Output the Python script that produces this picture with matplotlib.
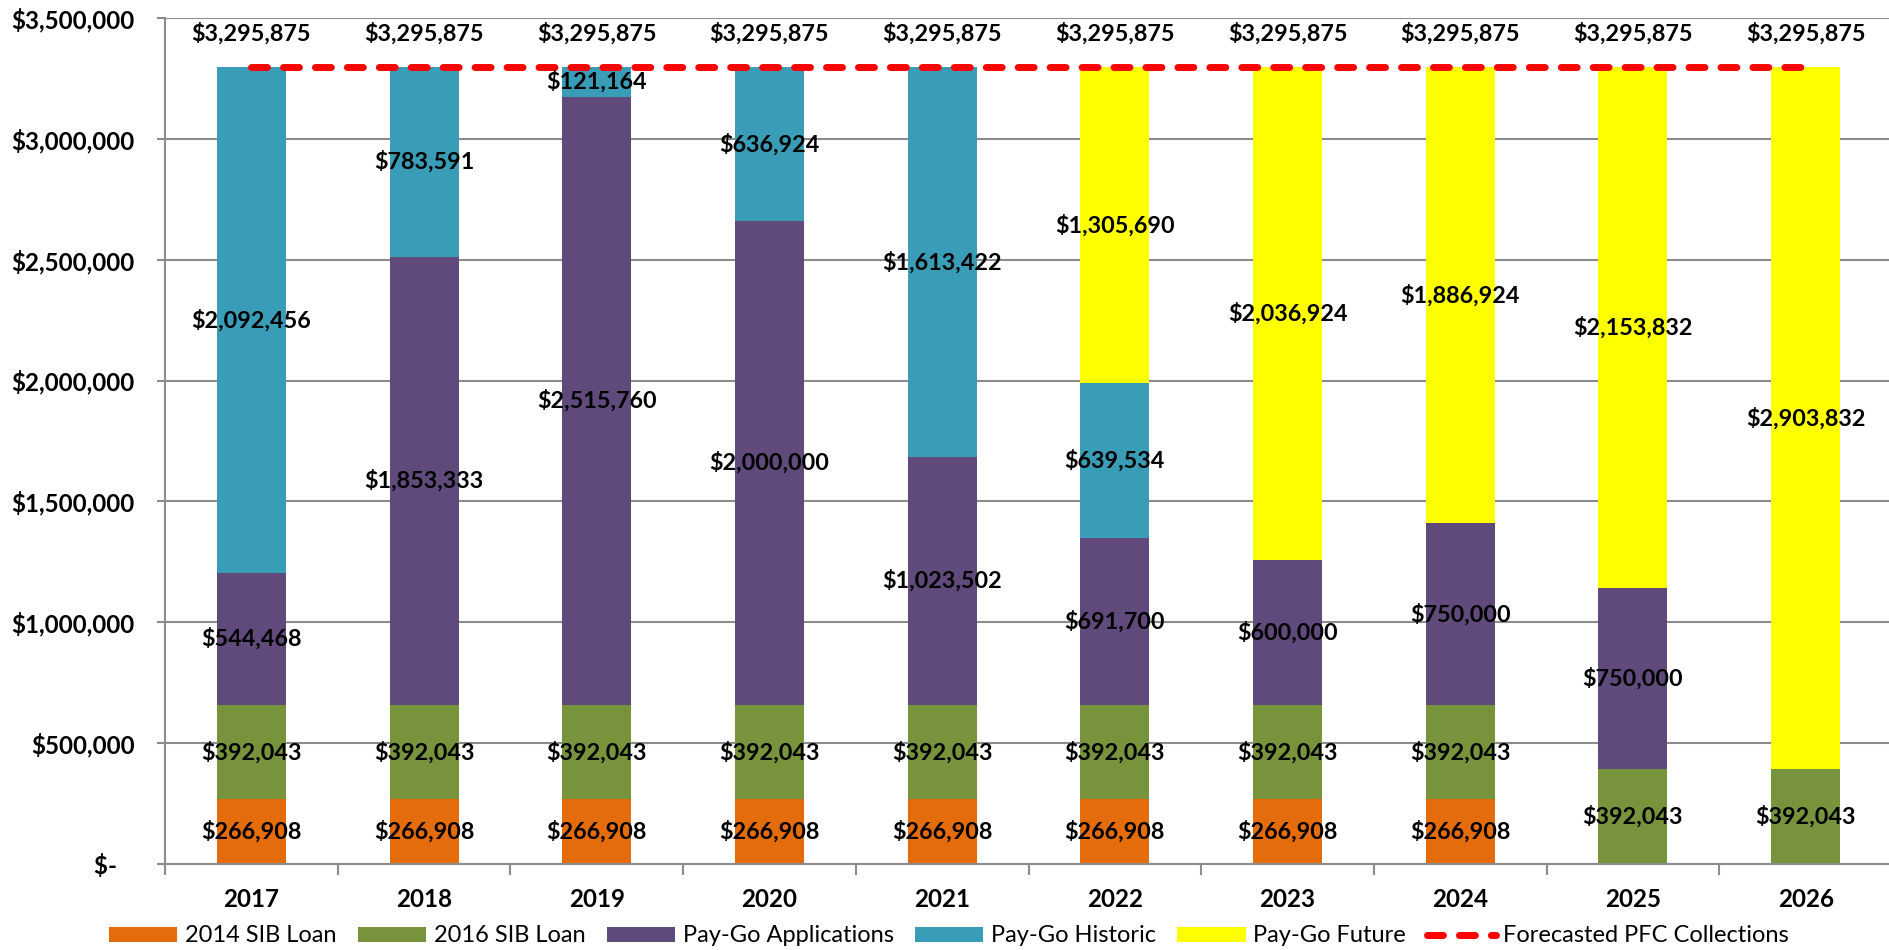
"""
Stacked PFC funding bars, 2017-2026, with forecasted collections line.
Writes out.png
"""
import numpy as np
import matplotlib
matplotlib.use("Agg")
import matplotlib.pyplot as plt
from matplotlib.ticker import FuncFormatter, FixedLocator

plt.rcParams["font.family"] = ["Lato", "DejaVu Sans"]

years        = ["2017", "2018", "2019", "2020", "2021", "2022", "2023", "2024", "2025", "2026"]
sib_2014     = [266908, 266908, 266908, 266908, 266908, 266908, 266908, 266908, 0, 0]
sib_2016     = [392043] * 10
paygo_apps   = [544468, 1853333, 2515760, 2000000, 1023502, 691700, 600000, 750000, 750000, 0]
paygo_hist   = [2092456, 783591, 121164, 636924, 1613422, 639534, 0, 0, 0, 0]
paygo_future = [0, 0, 0, 0, 0, 1305690, 2036924, 1886924, 2153832, 2903832]
forecast_pfc = [3295875] * 10

series = [
    ("2014 SIB Loan",       sib_2014,     "#E46C0A"),
    ("2016 SIB Loan",       sib_2016,     "#77933C"),
    ("Pay-Go Applications", paygo_apps,   "#604A7B"),
    ("Pay-Go Historic",     paygo_hist,   "#3A9DB8"),
    ("Pay-Go Future",       paygo_future, "#FFFF00"),
]

FS   = 16.8
GRID = "#8C8C8C"

fig = plt.figure(figsize=(18.89, 9.5), dpi=100)
ax  = fig.add_axes([165 / 1889, 1 - 864 / 950, 1727 / 1889, (864 - 18) / 950])

x = np.arange(len(years))
bottom = np.zeros(len(years))
for name, vals, col in series:
    vals = np.array(vals, dtype=float)
    ax.bar(x, vals, width=0.4, bottom=bottom, color=col, label=name, zorder=2)
    for xi, b, v in zip(x, bottom, vals):
        if v > 0:
            ax.text(xi, b + v / 2, f"${v:,.0f}", ha="center", va="center",
                    fontsize=FS, fontweight="bold", color="black", zorder=4)
    bottom += vals

ax.plot(x, forecast_pfc, color="#FF0000", lw=5, ls=(0, (2.3, 2.3)),
        dash_capstyle="round", label="Forecasted PFC Collections", zorder=3)
for xi, v in zip(x, forecast_pfc):
    ax.annotate(f"${v:,.0f}", (xi, v), xytext=(0, 24), textcoords="offset points",
                ha="center", va="center", fontsize=FS, fontweight="bold")

# axes styling
ax.set_xlim(-0.5, len(years) - 0.5)
ax.set_ylim(0, 3500000)
ax.yaxis.set_major_locator(FixedLocator(np.arange(0, 3500001, 500000)))
ax.yaxis.set_major_formatter(FuncFormatter(lambda v, p: "$-   " if v == 0 else f"${v:,.0f}"))
ax.grid(axis="y", color=GRID, lw=1.5, zorder=0)
ax.set_axisbelow(True)
for s in ("top", "right"):
    ax.spines[s].set_visible(False)
for s in ("left", "bottom"):
    ax.spines[s].set_color(GRID)
    ax.spines[s].set_linewidth(1.5)

ax.set_xticks(x)
ax.set_xticklabels(years)
ax.xaxis.set_minor_locator(FixedLocator(np.arange(-0.5, len(years), 1.0)))
ax.tick_params(axis="x", which="major", length=0, pad=17)
ax.tick_params(axis="x", which="minor", length=8, width=1.5, color=GRID, direction="out")
ax.tick_params(axis="y", length=6, width=1.5, color=GRID, pad=16)
for lab in ax.get_xticklabels() + ax.get_yticklabels():
    lab.set_fontsize(FS + 0.6)
    lab.set_fontweight("bold")

handles, labels = ax.get_legend_handles_labels()
order = [1, 2, 3, 4, 5, 0]
fig.legend([handles[i] for i in order], [labels[i] for i in order],
           loc="center", bbox_to_anchor=(0.5024, 1 - 936 / 950), ncol=6,
           frameon=False, fontsize=17.0, handlelength=2.9, handleheight=0.6,
           handletextpad=0.32, columnspacing=0.9)

fig.savefig("out.png", dpi=100)
